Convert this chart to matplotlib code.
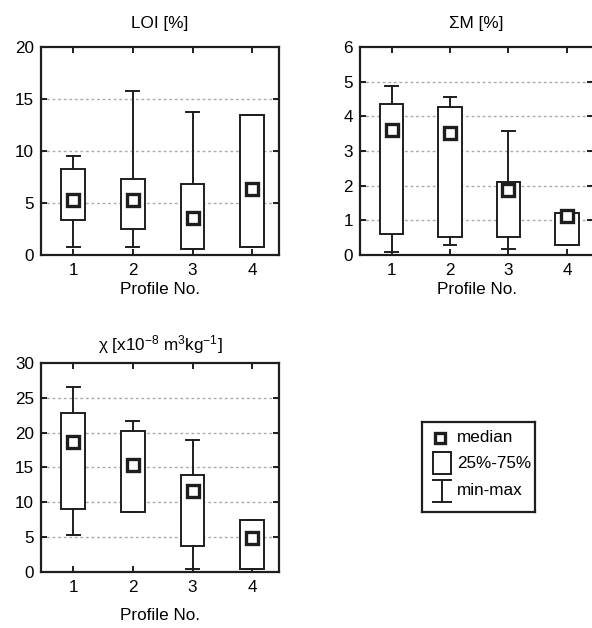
import numpy as np
import matplotlib
matplotlib.use("Agg")
import matplotlib.pyplot as plt
from matplotlib.patches import Rectangle

plt.rcParams['font.family'] = ['Liberation Sans', 'DejaVu Sans']
plt.rcParams['mathtext.fontset'] = 'custom'
plt.rcParams['mathtext.rm'] = 'Liberation Sans'
plt.rcParams['mathtext.it'] = 'Liberation Sans:italic'

profiles = [1, 2, 3, 4]

# LOI [%]
loi_min = [0.8, 0.8, 0.58, 0.77]
loi_q1 = [3.33, 2.53, 0.58, 0.77]
loi_med = [5.29, 5.29, 3.56, 6.31]
loi_q3 = [8.27, 7.34, 6.83, 13.5]
loi_max = [9.55, 15.8, 13.75, 13.5]

# sum M [%]
sm_min = [0.08, 0.30, 0.16, 0.30]
sm_q1 = [0.61, 0.52, 0.52, 0.30]
sm_med = [3.61, 3.53, 1.88, 1.13]
sm_q3 = [4.35, 4.27, 2.10, 1.21]
sm_max = [4.87, 4.56, 3.59, 1.21]

# chi
chi_min = [5.26, 8.66, 0.48, 0.48]
chi_q1 = [9.0, 8.66, 3.78, 0.48]
chi_med = [18.7, 15.3, 11.6, 4.88]
chi_q3 = [22.8, 20.2, 13.9, 7.46]
chi_max = [26.5, 21.7, 19.0, 7.46]

FS = 12.3
INK = '#1e1e1e'


def draw_panel(ax, title, mins, q1s, meds, q3s, maxs, ymax, ystep, tpad, lpad):
    stats = []
    for lo, a, m, b, hi in zip(mins, q1s, meds, q3s, maxs):
        stats.append(dict(whislo=lo, q1=a, med=m, mean=m, q3=b, whishi=hi, fliers=[]))
    ax.bxp(stats, positions=profiles, widths=0.4, capwidths=0.22,
           patch_artist=True, showmeans=True, showfliers=False,
           boxprops=dict(facecolor='white', edgecolor=INK, linewidth=1.4),
           whiskerprops=dict(color=INK, linewidth=1.4),
           capprops=dict(color=INK, linewidth=1.4),
           medianprops=dict(visible=False),
           meanprops=dict(marker='s', markersize=9, markerfacecolor='white',
                          markeredgecolor=INK, markeredgewidth=2.4))
    ax.set_xlim(0.46, 4.45)
    ax.set_ylim(0, ymax)
    ax.set_yticks(np.arange(0, ymax + ystep / 2, ystep))
    ax.set_xticks(profiles)
    ax.set_xticklabels([str(p) for p in profiles])
    for y in np.arange(ystep, ymax, ystep):
        ax.axhline(y, color='#aaaaaa', linestyle=(0, (2, 2)), linewidth=1, zorder=0)
    ax.set_axisbelow(True)
    ax.tick_params(direction='in', length=4, width=1.4, top=True, right=True,
                   labelsize=FS, colors=INK, labelcolor='black')
    ax.tick_params(axis='x', pad=6)
    ax.tick_params(axis='y', pad=5)
    for s in ax.spines.values():
        s.set_linewidth(1.6)
        s.set_color(INK)
    ax.set_title(title, fontsize=FS, pad=tpad)
    ax.set_xlabel('Profile No.', fontsize=FS, labelpad=lpad)


fig = plt.figure(figsize=(5.92, 6.28), dpi=100)

ax1 = fig.add_axes([0.0693, 0.594, 0.402, 0.331])
draw_panel(ax1, 'LOI [%]', loi_min, loi_q1, loi_med, loi_q3, loi_max, 20, 5, 14, 3)

ax2 = fig.add_axes([0.608, 0.594, 0.394, 0.331])
draw_panel(ax2, 'ΣM [%]', sm_min, sm_q1, sm_med, sm_q3, sm_max, 6, 1, 14, 3)

ax3 = fig.add_axes([0.0693, 0.0892, 0.402, 0.333])
draw_panel(ax3, 'χ [x10$^{-8}$ m$^{3}$kg$^{-1}$]', chi_min, chi_q1, chi_med,
           chi_q3, chi_max, 30, 5, 9, 9)

# legend box
lg = fig.add_axes([0.713, 0.185, 0.191, 0.143])
lg.set_xlim(0, 113)
lg.set_ylim(90, 0)
lg.set_xticks([])
lg.set_yticks([])
for s in lg.spines.values():
    s.set_linewidth(1.6)
    s.set_color(INK)
lg.plot([18], [16], marker='s', markersize=7.5, markerfacecolor='white',
        markeredgecolor=INK, markeredgewidth=2.4)
lg.add_patch(Rectangle((11, 30), 18, 22, facecolor='white', edgecolor=INK,
                       linewidth=1.4))
lg.plot([20, 20], [58, 80], color=INK, linewidth=1.4)
lg.plot([11, 29], [58, 58], color=INK, linewidth=1.4)
lg.plot([11, 29], [80, 80], color=INK, linewidth=1.4)
lg.text(35, 16, 'median', fontsize=FS, va='center')
lg.text(35, 42, '25%-75%', fontsize=FS, va='center')
lg.text(35, 69, 'min-max', fontsize=FS, va='center')

fig.savefig('out.png', dpi=100)
